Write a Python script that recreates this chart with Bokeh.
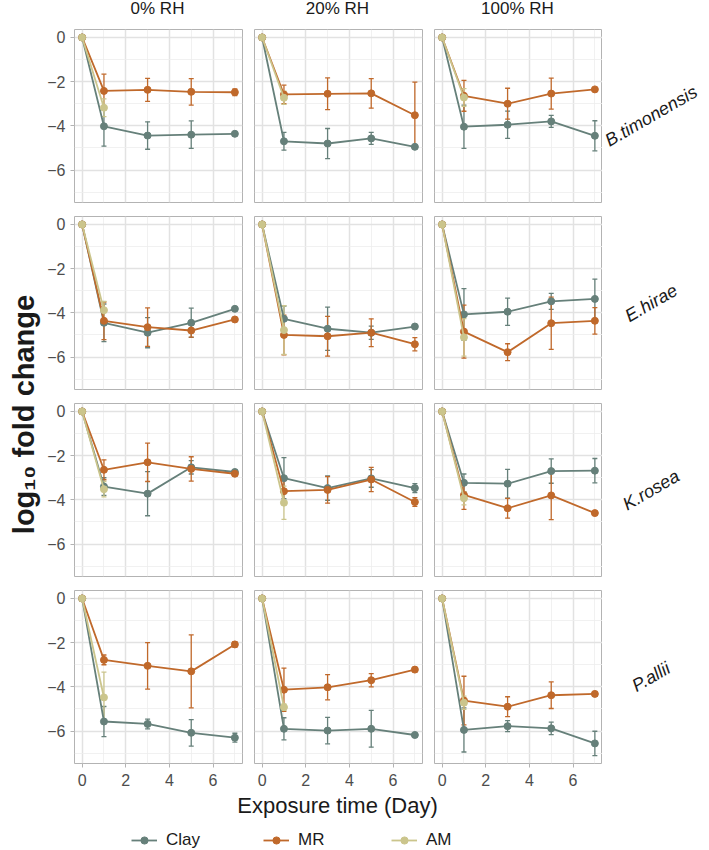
import math
from bokeh.plotting import figure
from bokeh.layouts import row, column
from bokeh.models import (Range1d, FixedTicker, CustomJSTickFormatter, ColumnDataSource,
                          Whisker, TeeHead, Legend, LegendItem)
from bokeh.core.properties import value
from bokeh.embed import file_html
from bokeh.resources import INLINE

# ---------------- data ----------------
days = [0, 1, 3, 5, 7]
am_days = [0, 1]
rh_labels = ["0% RH", "20% RH", "100% RH"]
species = ["B.timonensis", "E.hirae", "K.rosea", "P.allii"]
soils = ["Clay", "MR", "AM"]
soil_colors = ["#66807a", "#c0692b", "#cbc58c"]
x_ticks = [0, 2, 4, 6]
x_minor = [1, 3, 5, 7]
y_ticks = [0, -2, -4, -6]
y_minor = [-1, -3, -5, -7]

# each list: [0% RH, 20% RH, 100% RH]
btim_clay = [[0, -4.02, -4.44, -4.40, -4.36], [0, -4.70, -4.80, -4.57, -4.95], [0, -4.04, -3.95, -3.80, -4.45]]
btim_clay_err = [[0, 0.90, 0.62, 0.62, 0.06], [0, 0.40, 0.68, 0.27, 0.05], [0, 0.98, 0.62, 0.27, 0.68]]
btim_mr = [[0, -2.42, -2.37, -2.46, -2.48], [0, -2.58, -2.55, -2.53, -3.52], [0, -2.64, -3.00, -2.54, -2.35]]
btim_mr_err = [[0, 0.76, 0.52, 0.60, 0.15], [0, 0.42, 0.72, 0.67, 1.50], [0, 0.70, 0.70, 0.70, 0.07]]
btim_am = [[0, -3.18], [0, -2.73], [0, -2.72]]
btim_am_err = [[0, 0.40], [0, 0.30], [0, 0.40]]

ehir_clay = [[0, -4.45, -4.90, -4.45, -3.82], [0, -4.27, -4.72, -4.90, -4.62], [0, -4.07, -3.95, -3.48, -3.37]]
ehir_clay_err = [[0, 0.85, 0.68, 0.66, 0.07], [0, 0.58, 0.98, 0.30, 0.08], [0, 1.17, 0.62, 0.36, 0.90]]
ehir_mr = [[0, -4.36, -4.65, -4.80, -4.30], [0, -5.00, -5.06, -4.90, -5.42], [0, -4.85, -5.78, -4.47, -4.36]]
ehir_mr_err = [[0, 0.85, 0.87, 0.30, 0.07], [0, 0.90, 0.90, 0.63, 0.30], [0, 1.20, 0.38, 1.18, 0.60]]
ehir_am = [[0, -3.88], [0, -4.78], [0, -5.11]]
ehir_am_err = [[0, 0.40], [0, 1.10], [0, 0.85]]

kros_clay = [[0, -3.40, -3.72, -2.53, -2.74], [0, -3.02, -3.47, -3.03, -3.47], [0, -3.23, -3.27, -2.70, -2.68]]
kros_clay_err = [[0, 0.40, 1.00, 0.30, 0.10], [0, 0.93, 0.55, 0.40, 0.20], [0, 0.40, 0.65, 0.55, 0.55]]
kros_mr = [[0, -2.64, -2.30, -2.60, -2.82], [0, -3.61, -3.55, -3.08, -4.10], [0, -3.78, -4.38, -3.80, -4.60]]
kros_mr_err = [[0, 0.45, 0.87, 0.55, 0.10], [0, 0.55, 0.60, 0.55, 0.20], [0, 0.65, 0.45, 1.10, 0.07]]
kros_am = [[0, -3.52], [0, -4.13], [0, -3.93]]
kros_am_err = [[0, 0.35], [0, 0.75], [0, 0.30]]

pall_clay = [[0, -5.57, -5.68, -6.08, -6.30], [0, -5.90, -5.98, -5.90, -6.18], [0, -5.95, -5.78, -5.88, -6.56]]
pall_clay_err = [[0, 0.68, 0.22, 0.60, 0.20], [0, 0.50, 0.60, 0.83, 0.05], [0, 1.00, 0.25, 0.28, 0.55]]
pall_mr = [[0, -2.78, -3.05, -3.30, -2.08], [0, -4.13, -4.02, -3.70, -3.22], [0, -4.62, -4.90, -4.38, -4.32]]
pall_mr_err = [[0, 0.22, 1.05, 1.65, 0.12], [0, 0.98, 0.57, 0.30, 0.10], [0, 1.10, 0.45, 0.60, 0.10]]
pall_am = [[0, -4.48], [0, -4.92], [0, -4.72]]
pall_am_err = [[0, 1.15], [0, 0.15], [0, 0.30]]

series = {
    "B.timonensis": [(btim_clay, btim_clay_err), (btim_mr, btim_mr_err), (btim_am, btim_am_err)],
    "E.hirae": [(ehir_clay, ehir_clay_err), (ehir_mr, ehir_mr_err), (ehir_am, ehir_am_err)],
    "K.rosea": [(kros_clay, kros_clay_err), (kros_mr, kros_mr_err), (kros_am, kros_am_err)],
    "P.allii": [(pall_clay, pall_clay_err), (pall_mr, pall_mr_err), (pall_am, pall_am_err)],
}

# ---------------- layout constants ----------------
FONT = "Liberation Sans"
FW, FH = 168, 173
GAP = 6
ROW_PAD = 7
LEFT_AX = 29
BOTTOM_AX = 30
YLAB_W = 44
STRIP_W = 108
HEAD_H = 22
BOT_H = 57
TOTAL_H = 850
X_RANGE = (-0.35, 7.35)
Y_RANGE = (-7.47, 0.36)

BORDER = "#b3b3b3"
GRID_MAJ = "#e2e2e2"
GRID_MIN = "#eeeeee"


def base_fig(fw, fh, left, right, top, bottom, xr, yr, xloc=None, yloc=None):
    p = figure(frame_width=fw, frame_height=fh,
               min_border_left=left, min_border_right=right,
               min_border_top=top, min_border_bottom=bottom,
               x_range=Range1d(*xr), y_range=Range1d(*yr),
               x_axis_location=xloc, y_axis_location=yloc,
               toolbar_location=None, tools="", output_backend="svg")
    p.background_fill_color = "white"
    p.border_fill_color = "white"
    return p


def blank_fig(fw, fh, left, right, top, bottom, xr=(0, 1), yr=(0, 1)):
    p = base_fig(fw, fh, left, right, top, bottom, xr, yr)
    p.grid.visible = False
    p.outline_line_color = None
    return p


def style_axis(ax, standoff):
    ax.axis_line_color = None
    ax.major_tick_line_color = BORDER
    ax.major_tick_line_width = 1
    ax.major_tick_out = 4
    ax.major_tick_in = 0
    ax.minor_tick_line_color = None
    ax.major_label_text_font = FONT
    ax.major_label_text_font_size = "16px"
    ax.major_label_text_color = "#4d4d4d"
    ax.major_label_standoff = standoff


def make_panel(i, j):
    left = LEFT_AX if j == 0 else GAP
    right = 0 if j == 2 else GAP
    bottom = BOTTOM_AX if i == 3 else ROW_PAD
    p = base_fig(FW, FH, left, right, ROW_PAD, bottom, X_RANGE, Y_RANGE,
                 xloc="below" if i == 3 else None, yloc="left" if j == 0 else None)
    p.outline_line_color = BORDER
    p.outline_line_width = 1
    p.xgrid.ticker = FixedTicker(ticks=x_ticks, minor_ticks=x_minor)
    p.ygrid.ticker = FixedTicker(ticks=y_ticks, minor_ticks=y_minor)
    p.grid.grid_line_color = GRID_MAJ
    p.grid.grid_line_width = 1.5
    p.grid.minor_grid_line_color = GRID_MIN
    p.grid.minor_grid_line_width = 0.8
    if i == 3:
        p.xaxis.ticker = FixedTicker(ticks=x_ticks)
        style_axis(p.xaxis, 6)
    if j == 0:
        p.yaxis.ticker = FixedTicker(ticks=y_ticks)
        p.yaxis.formatter = CustomJSTickFormatter(
            code="return tick < 0 ? '\u2212' + Math.abs(tick) : String(tick);")
        style_axis(p.yaxis, 5)

    sp = species[i]
    for k, soil in enumerate(soils):
        means, errs = series[sp][k]
        xs = am_days if soil == "AM" else days
        ys = means[j]
        es = errs[j]
        src = ColumnDataSource(dict(
            x=xs, y=ys,
            upper=[m + e for m, e in zip(ys, es)],
            lower=[m - e for m, e in zip(ys, es)]))
        c = soil_colors[k]
        p.line("x", "y", source=src, line_color=c, line_width=1.8)
        p.scatter("x", "y", source=src, size=7, fill_color=c, line_color=c)
        w = Whisker(source=src, base="x", upper="upper", lower="lower", dimension="height",
                    line_color=c, line_width=1.3,
                    upper_head=TeeHead(size=5, line_color=c, line_width=1.3),
                    lower_head=TeeHead(size=5, line_color=c, line_width=1.3))
        p.add_layout(w)
    return p


def make_header(j):
    left = LEFT_AX if j == 0 else GAP
    right = STRIP_W if j == 2 else GAP
    p = blank_fig(FW, HEAD_H, left, right, 0, 0)
    p.text(x=[0.5], y=[1 - 8 / HEAD_H], text=[rh_labels[j]],
           text_font=value(FONT), text_font_size="17px", text_color="#1a1a1a",
           text_align="center", text_baseline="middle")
    return p


def make_strip(i):
    bottom = BOTTOM_AX if i == 3 else ROW_PAD
    p = blank_fig(STRIP_W, FH, 0, 0, ROW_PAD, bottom)
    p.text(x=[0.45], y=[0.5], text=[species[i]], angle=math.radians(30),
           text_font=value(FONT), text_font_size="18px", text_font_style="italic",
           text_color="#1a1a1a", text_align="center", text_baseline="middle")
    return p


header = row(*[make_header(j) for j in range(3)])
panel_rows = []
for i in range(4):
    panel_rows.append(row(*[make_panel(i, j) for j in range(3)], make_strip(i)))

main_w = (LEFT_AX + FW + GAP) + (GAP + FW + GAP) + (GAP + FW) + STRIP_W
panel_left = LEFT_AX
panel_right = LEFT_AX + 3 * FW + 4 * GAP

bot = blank_fig(main_w, BOT_H, 0, 0, 0, 0, xr=(0, main_w), yr=(0, BOT_H))
bot.text(x=[(panel_left + panel_right) / 2], y=[BOT_H - 12], text=["Exposure time (Day)"],
         text_font=value(FONT), text_font_size="22px", text_color="#1a1a1a",
         text_align="center", text_baseline="middle")
legend_x = [87, 219, 347]
for k, soil in enumerate(soils):
    c = soil_colors[k]
    lr = bot.line(x=[-10, -9], y=[-10, -10], line_color=c, line_width=1.8)
    sr = bot.scatter(x=[-10], y=[-10], size=7, fill_color=c, line_color=c)
    leg = Legend(items=[LegendItem(label=soil, renderers=[lr, sr])],
                 location=(legend_x[k], 0), orientation="horizontal",
                 padding=0, margin=0, spacing=0, glyph_width=26, glyph_height=18,
                 label_standoff=9, label_text_font=FONT, label_text_font_size="17px",
                 label_text_color="#1a1a1a", border_line_color=None,
                 background_fill_alpha=0)
    bot.add_layout(leg)

ylab = blank_fig(YLAB_W, TOTAL_H, 0, 0, 0, 0, xr=(0, YLAB_W), yr=(0, TOTAL_H))
ylab.text(x=[23], y=[TOTAL_H - 414], text=["log\u2081\u2080 fold change"],
          angle=math.pi / 2, text_font=value(FONT), text_font_size="29px",
          text_font_style="bold", text_color="#1a1a1a",
          text_align="center", text_baseline="middle")

main_col = column(header, *panel_rows, bot)
root = row(ylab, main_col, margin=(0, 0, 0, 0))

open("out.html", "w").write(file_html(root, INLINE))
